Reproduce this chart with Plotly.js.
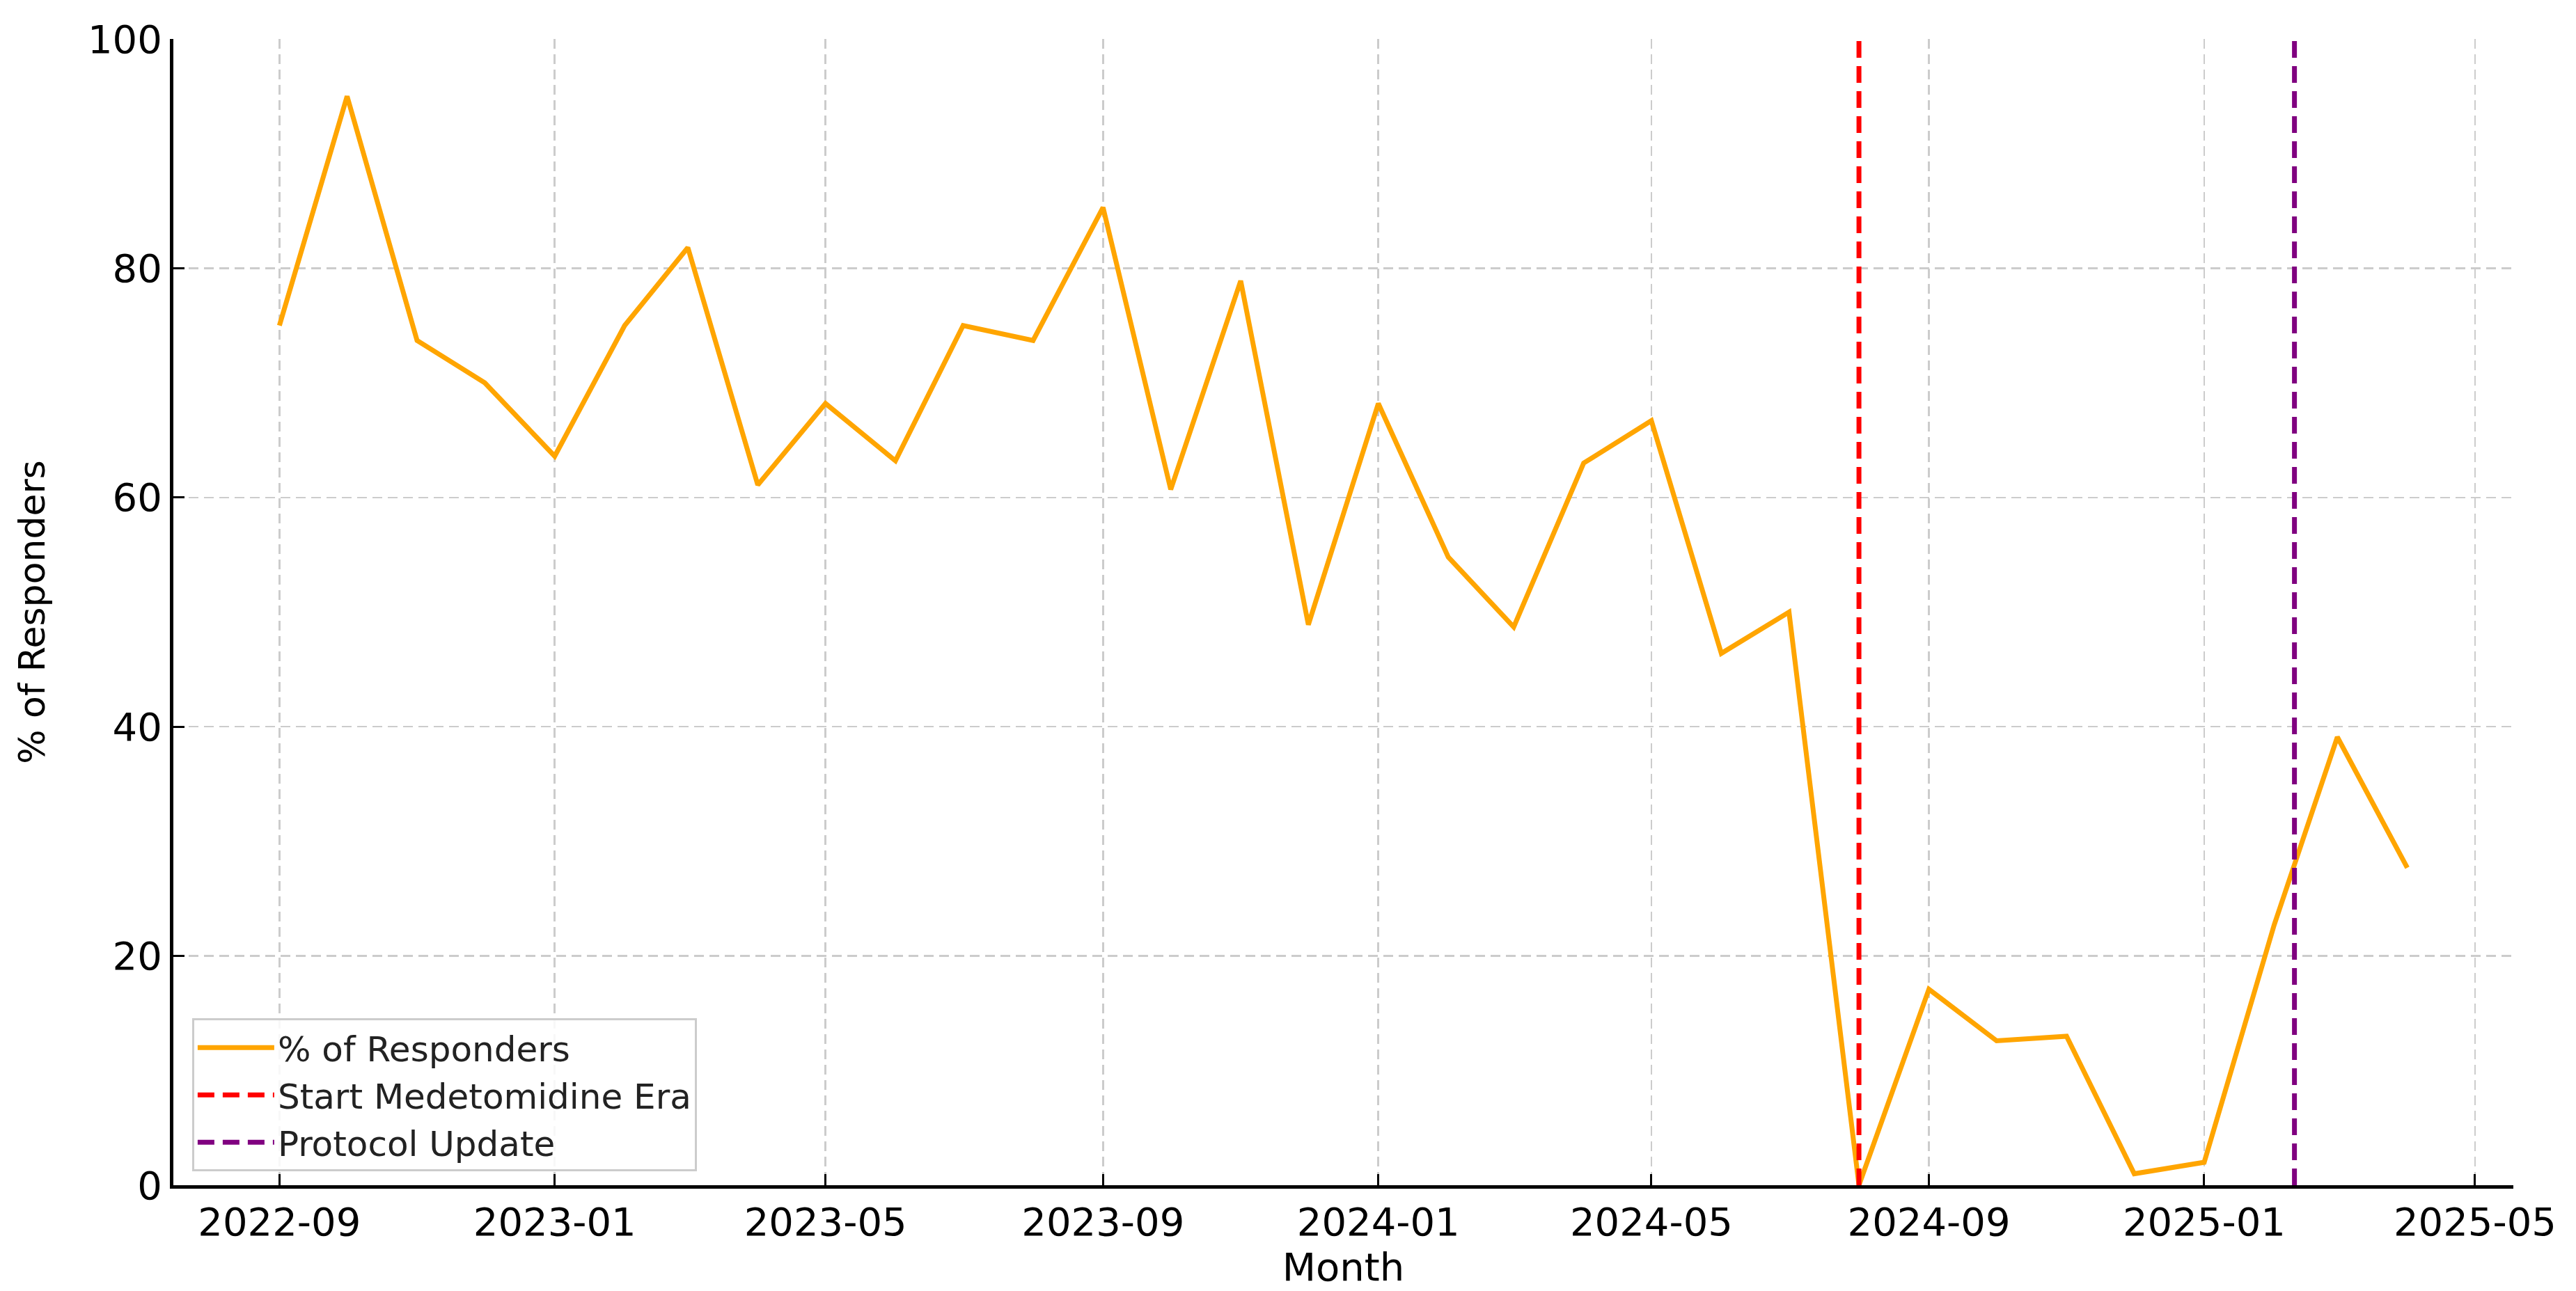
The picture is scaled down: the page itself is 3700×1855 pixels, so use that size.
<!DOCTYPE html>
<html>
<head>
<meta charset="utf-8">
<script src="https://cdn.plot.ly/plotly-3.0.1.min.js"></script>
<style>
  html, body { margin: 0; padding: 0; background: #ffffff; }
  #chart { width: 3700px; height: 1855px; }
</style>
</head>
<body>
<div id="chart"></div>
<script>
// ---- Data ----
const months = [
  "2022-09-01", "2022-10-01", "2022-11-01", "2022-12-01",
  "2023-01-01", "2023-02-01", "2023-03-01", "2023-04-01", "2023-05-01", "2023-06-01",
  "2023-07-01", "2023-08-01", "2023-09-01", "2023-10-01", "2023-11-01", "2023-12-01",
  "2024-01-01", "2024-02-01", "2024-03-01", "2024-04-01", "2024-05-01", "2024-06-01",
  "2024-07-01", "2024-08-01", "2024-09-01", "2024-10-01", "2024-11-01", "2024-12-01",
  "2025-01-01", "2025-02-01", "2025-03-01", "2025-04-01"
];
const responderPct = [
  75.0, 95.0, 73.7, 70.0,
  63.6, 75.0, 81.8, 61.1, 68.2, 63.2,
  75.0, 73.7, 85.3, 60.7, 78.9, 48.9,
  68.2, 54.8, 48.7, 63.0, 66.7, 46.4,
  50.0, 0.0, 17.1, 12.6, 13.0, 1.0,
  2.0, 22.7, 39.1, 27.7
];
const seriesName = "% of Responders";
const eventNames = ["Start Medetomidine Era", "Protocol Update"];
const eventDates = ["2024-08-01", "2025-02-10"];
const eventColors = ["#ff0000", "#800080"];
const yRange = [0, 100];
const xRange = ["2022-07-16", "2025-05-18"];
const xTitle = "Month";
const yTitle = "% of Responders";

// ---- Traces ----
const traces = [{
  type: "scatter",
  mode: "lines",
  x: months,
  y: responderPct,
  name: seriesName,
  line: { color: "#FFA500", width: 7 }
}];
eventDates.forEach((d, i) => {
  traces.push({
    type: "scatter",
    mode: "lines",
    x: [d, d],
    y: yRange,
    name: eventNames[i],
    line: { color: eventColors[i], width: 7, dash: "24px,12px" }
  });
});

const fontFam = "DejaVu Sans, Liberation Sans, sans-serif";

const axisCommon = {
  ticks: "inside",
  ticklen: 16,
  tickwidth: 3,
  tickcolor: "#000000",
  tickfont: { family: fontFam, size: 56, color: "#000000" },
  showline: true,
  linecolor: "#000000",
  linewidth: 5,
  showgrid: true,
  gridcolor: "#cccccc",
  gridwidth: 2.5,
  griddash: "14px,8px",
  zeroline: false,
  automargin: false
};

const layout = {
  width: 3700,
  height: 1855,
  paper_bgcolor: "#ffffff",
  plot_bgcolor: "#ffffff",
  margin: { l: 249, r: 90, t: 56, b: 152 },
  font: { family: fontFam, color: "#000000", size: 52 },
  showlegend: true,
  legend: {
    x: 0.008, y: 0.012, xanchor: "left", yanchor: "bottom",
    bgcolor: "rgba(255,255,255,0.85)",
    bordercolor: "#cccccc",
    borderwidth: 3,
    itemwidth: 110,
    font: { family: fontFam, size: 50, color: "#222222" },
    tracegroupgap: 0
  },
  xaxis: Object.assign({}, axisCommon, {
    type: "date",
    range: xRange,
    tick0: "2022-09-01",
    dtick: "M4",
    tickformat: "%Y-%m",
    title: { text: xTitle, font: { family: fontFam, size: 56, color: "#000000" }, standoff: 0 }
  }),
  yaxis: Object.assign({}, axisCommon, {
    range: yRange,
    dtick: 20,
    tick0: 0,
    title: { text: yTitle, font: { family: fontFam, size: 52, color: "#000000" }, standoff: 46 }
  })
};

Plotly.newPlot("chart", traces, layout, { displayModeBar: false, staticPlot: true });
</script>
</body>
</html>
